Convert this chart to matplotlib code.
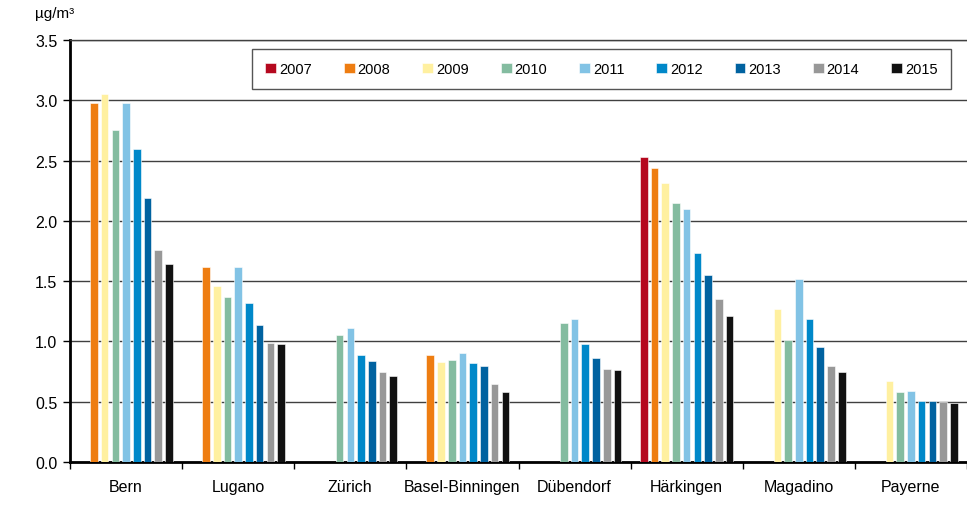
import numpy as np
import matplotlib
matplotlib.use('Agg')
import matplotlib.pyplot as plt

plt.rcParams['font.family'] = ['Liberation Sans', 'DejaVu Sans']

stationen = ['Bern', 'Lugano', 'Zürich', 'Basel-Binningen', 'Dübendorf',
             'Härkingen', 'Magadino', 'Payerne']
jahre = ['2007', '2008', '2009', '2010', '2011', '2012', '2013', '2014', '2015']
farben = ['#B5081F', '#EE7D11', '#FFF0A0', '#84BCA0', '#82C3E5',
          '#0088C9', '#0062A0', '#989898', '#111111']

nan = np.nan
# Jahresmittel je Station, eine Liste pro Jahr (NaN = keine Messung)
werte_2007 = [nan, nan, nan, nan, nan, 2.53, nan, nan]
werte_2008 = [2.98, 1.62, nan, 0.89, nan, 2.44, nan, nan]
werte_2009 = [3.05, 1.46, nan, 0.83, nan, 2.31, 1.27, 0.67]
werte_2010 = [2.75, 1.37, 1.05, 0.85, 1.15, 2.15, 1.01, 0.58]
werte_2011 = [2.98, 1.62, 1.11, 0.90, 1.19, 2.10, 1.52, 0.59]
werte_2012 = [2.60, 1.32, 0.89, 0.82, 0.98, 1.73, 1.19, 0.51]
werte_2013 = [2.19, 1.14, 0.84, 0.80, 0.86, 1.55, 0.95, 0.51]
werte_2014 = [1.76, 0.99, 0.75, 0.65, 0.77, 1.35, 0.80, 0.50]
werte_2015 = [1.64, 0.98, 0.71, 0.58, 0.76, 1.21, 0.75, 0.49]
werte = [werte_2007, werte_2008, werte_2009, werte_2010, werte_2011,
         werte_2012, werte_2013, werte_2014, werte_2015]

fig = plt.figure(figsize=(9.67, 5.10), dpi=100)
ax = fig.add_axes([70 / 967, 1 - 463 / 510, 1 - 70 / 967, (463 - 41) / 510])

x = np.arange(len(stationen))
abstand = 0.0956
breite = 0.068
for i, (jahr, farbe, w) in enumerate(zip(jahre, farben, werte)):
    pos = x + (i - 4) * abstand
    ax.bar(pos, w, width=breite, color=farbe, label=jahr,
           edgecolor='white', linewidth=0.4, zorder=3)

ax.set_xlim(-0.5, len(stationen) - 0.5)
ax.set_ylim(0, 3.5)
ax.set_yticks(np.arange(0, 3.51, 0.5))
ax.set_yticklabels([f'{v:.1f}' for v in np.arange(0, 3.51, 0.5)])
ax.yaxis.grid(True, color='#404040', linewidth=1)
ax.set_axisbelow(True)

ax.set_xticks(x)
ax.set_xticklabels(stationen)
ax.set_xticks(np.arange(-0.5, len(stationen)), minor=True)
ax.tick_params(axis='x', which='major', length=0, pad=12, labelsize=11.5)
ax.tick_params(axis='x', which='minor', length=5, width=1, direction='out')
ax.tick_params(axis='y', length=5, width=1, direction='out', labelsize=11.5, pad=4)

for s in ['left', 'bottom']:
    ax.spines[s].set_linewidth(2)
    ax.spines[s].set_color('black')
ax.spines['right'].set_visible(False)
ax.spines['top'].set_color('#404040')
ax.spines['top'].set_linewidth(1)

fig.text(35 / 967, 1 - 14 / 510, 'µg/m³', fontsize=11, va='center', ha='left')

leg = fig.legend(loc='center', ncol=9, mode='expand',
                 bbox_to_anchor=(245 / 967, 1 - 90 / 510, (958 - 245) / 967, 40 / 510),
                 fancybox=False, framealpha=1, edgecolor='#555555',
                 handlelength=0.75, handleheight=0.75, handletextpad=0.2,
                 fontsize=10.5, borderpad=0.9)
leg.get_frame().set_linewidth(1)

fig.savefig('out.png', dpi=100)
